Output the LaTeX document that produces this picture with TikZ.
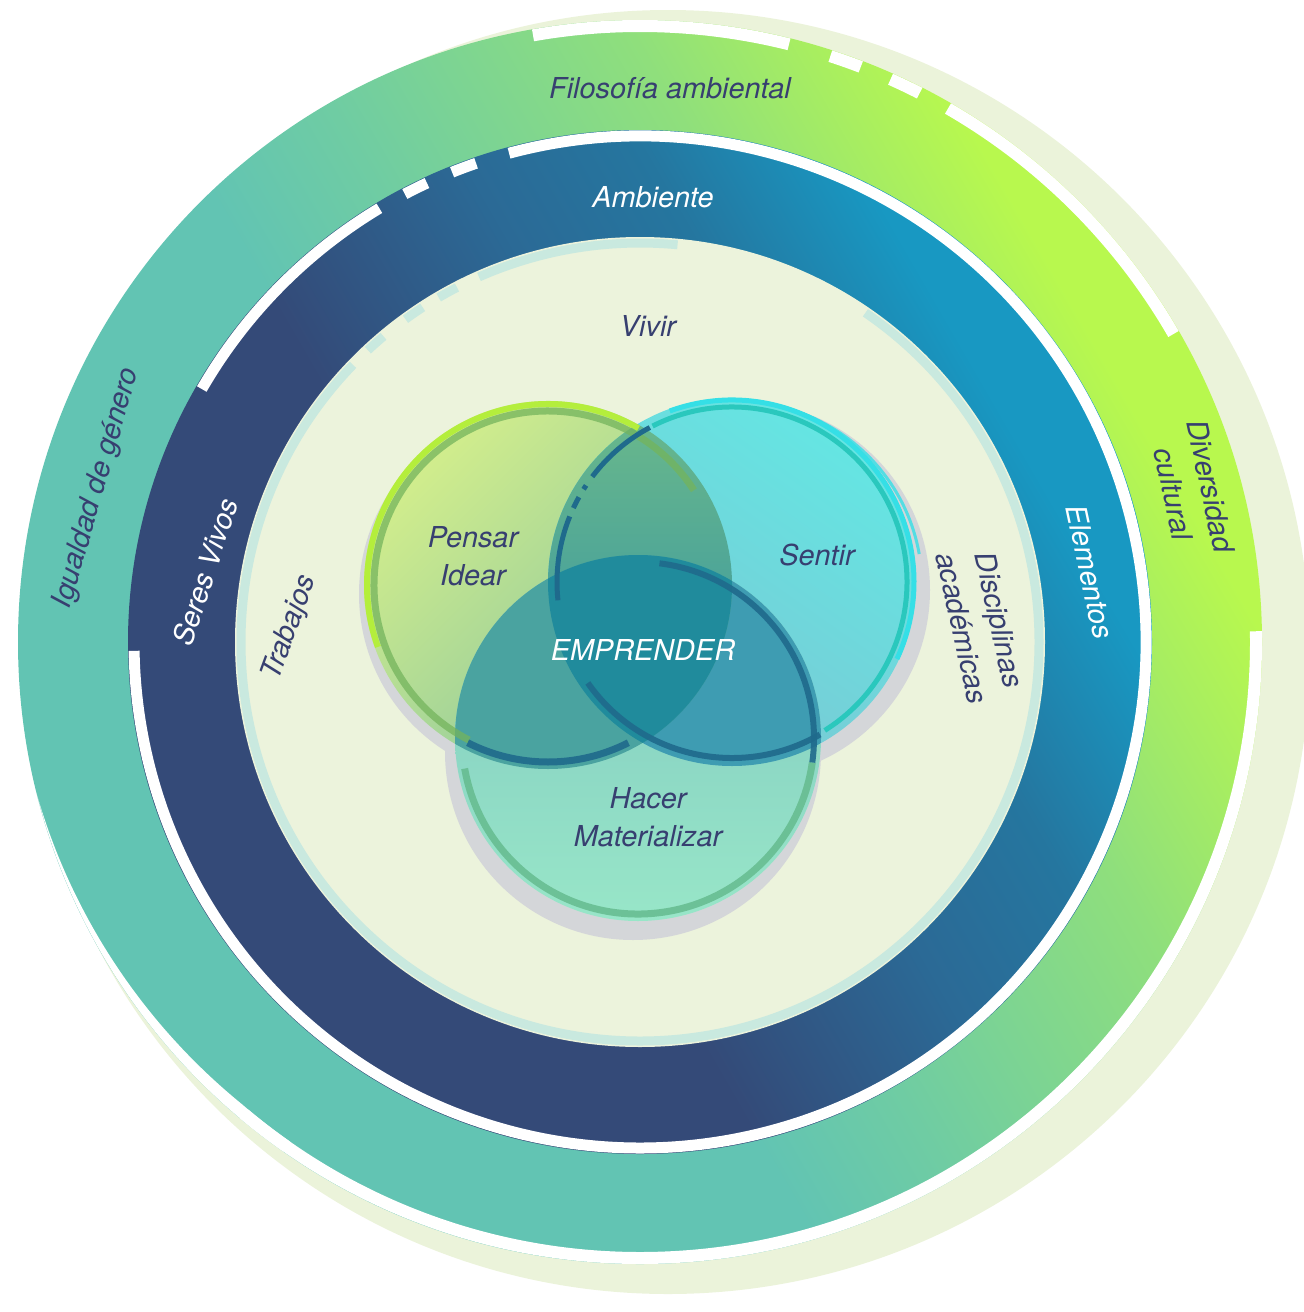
\documentclass[tikz,border=0pt]{standalone}
\usepackage{fontspec}
\setmainfont{TeX Gyre Heros}

\definecolor{ringTeal}{HTML}{62C4B3}
\definecolor{ringSea}{HTML}{6FCCA3}
\definecolor{ringMid}{HTML}{8FDF7C}
\definecolor{ringYellow}{HTML}{A8EE60}
\definecolor{ringLime}{HTML}{B8F84E}
\definecolor{ringNavy}{HTML}{344A78}
\definecolor{ringSteel}{HTML}{2B6A96}
\definecolor{ringBlue}{HTML}{25769F}
\definecolor{ringCyan}{HTML}{1898C2}
\definecolor{paleShadow}{HTML}{EBF3DA}
\definecolor{discPale}{HTML}{ECF3DC}
\definecolor{discTeal}{HTML}{C9E9DF}
\definecolor{txtNavy}{HTML}{373F70}
\definecolor{vennShadow}{HTML}{D4D6D9}
\definecolor{darkArc}{HTML}{1F6A8C}
\definecolor{pensarTop}{HTML}{D3EE8C}
\definecolor{pensarBot}{HTML}{86C4A0}
\definecolor{pensarLime}{HTML}{B4EE3C}
\definecolor{pensarRim}{HTML}{74B45C}
\definecolor{sentirTop}{HTML}{64E6E3}
\definecolor{sentirBot}{HTML}{7DC5D2}
\definecolor{sentirCyan}{HTML}{35DFE6}
\definecolor{sentirRim}{HTML}{2AC8BD}
\definecolor{hacerTop}{HTML}{7FC7C0}
\definecolor{hacerBot}{HTML}{98E6C8}
\definecolor{hacerRim}{HTML}{62B98B}
\definecolor{psTop}{HTML}{6CBA8A}
\definecolor{psBot}{HTML}{2F90A6}
\definecolor{phFill}{HTML}{4AA3A0}
\definecolor{shFill}{HTML}{3E9CB2}
\definecolor{pshFill}{HTML}{208B9C}

\pgfdeclarehorizontalshading{greenring}{100bp}{color(0bp)=(ringTeal); color(44bp)=(ringTeal); color(50bp)=(ringSea); color(62bp)=(ringMid); color(68bp)=(ringYellow); color(72bp)=(ringLime); color(100bp)=(ringLime)}
\pgfdeclarehorizontalshading{bluering}{100bp}{color(0bp)=(ringNavy); color(42.7bp)=(ringNavy); color(54.4bp)=(ringSteel); color(62.2bp)=(ringBlue); color(71bp)=(ringCyan); color(100bp)=(ringCyan)}

\tikzset{
    lbl/.style = {font = \fontsize{8.2}{10.8}\selectfont\itshape, text = txtNavy, align = center, inner sep = 0pt},
    lblwhite/.style = {lbl, text = white},
    cutarc/.style = {draw = white, line width = #1},
    rimarc/.style = {line width = 0.6mm}
}

\begin{document}
\begin{tikzpicture}[x = 0.1mm, y = 0.1mm]
    \useasboundingbox (0, 0) rectangle (1303, -1312);
    \coordinate (C) at (640, -642);

    \fill [paleShadow] (668, -652) circle [radius = 642];
    \shade [shading = greenring, shading angle = 30] (C) circle [radius = 622];
    \foreach \a/\b in {100/76, 72/69, 66/63, 60/30, 1/-130}
        \draw [cutarc = 1.2mm] (C) ++(\a:616) arc [start angle = \a, end angle = \b, radius = 616];
    \begin{scope}[even odd rule]
        \clip (0, 0) rectangle (1303, -1312) (634.6, -621.8) circle [radius = 622];
        \draw [cutarc = 1.2mm] (C) ++(-125:616) arc [start angle = -125, end angle = -172, radius = 616];
    \end{scope}

    \shade [shading = bluering, shading angle = 30] (C) circle [radius = 512];
    \foreach \a/\b in {105/-179, 150/121, 117.7/114.9, 111.8/108.9}
        \draw [cutarc = 1.1mm] (C) ++(\a:506) arc [start angle = \a, end angle = \b, radius = 506];

    \fill [discPale] (C) circle [radius = 405];
    \foreach \a/\b in {84.6/113.8, 117.3/120.3, 123/126, 130/133, 136/415.6}
        \draw [discTeal, line width = 0.9mm] (C) ++(\a:399) arc [start angle = \a, end angle = \b, radius = 399];

    \coordinate (P) at (548, -585);
    \coordinate (S) at (732, -582);
    \coordinate (H) at (638, -738);

    \fill [vennShadow]
        (545, -594) circle [radius = 186]
        (742, -590) circle [radius = 188]
        (633, -752) circle [radius = 188];

    \shade [top color = pensarTop, bottom color = pensarBot, shading angle = 45] (P) circle [radius = 184];
    \shade [top color = sentirTop, bottom color = sentirBot, shading angle = -35] (S) circle [radius = 184];
    \shade [top color = hacerTop, bottom color = hacerBot] (H) circle [radius = 183];

    \begin{scope}
        \clip (S) circle [radius = 184];
        \fill [shFill] (H) circle [radius = 183];
    \end{scope}
    \begin{scope}
        \clip (P) circle [radius = 184];
        \shade [top color = psTop, bottom color = psBot] (S) circle [radius = 184];
        \fill [phFill] (H) circle [radius = 183];
        \clip (S) circle [radius = 184];
        \fill [pshFill] (H) circle [radius = 183];
    \end{scope}

    % rims of the three circles
    \draw [rimarc, pensarLime] (P) ++(60:181) arc [start angle = 60, end angle = 200, radius = 181];
    \draw [rimarc, line width = 0.7mm, pensarRim, opacity = 0.75] (P) ++(33:174) arc [start angle = 33, end angle = 243, radius = 174];
    \draw [rimarc, line width = 0.7mm, darkArc, opacity = 0.9] (P) ++(243:177) arc [start angle = 243, end angle = 297, radius = 177];

    \draw [rimarc, line width = 0.5mm, sentirCyan] (S) ++(110:182) arc [start angle = 110, end angle = -25, radius = 182];
    \draw [rimarc, line width = 0.3mm, sentirCyan, opacity = 0.8] (738, -586) ++(70:184) arc [start angle = 70, end angle = 10, radius = 184];
    \draw [rimarc, line width = 0.5mm, sentirRim] (S) ++(117:175) arc [start angle = 117, end angle = -58, radius = 175];
    \foreach \a/\b in {118/143, 146.5/148, 151/155, 158/186}
        \draw [rimarc, line width = 0.5mm, darkArc] (S) ++(\a:175) arc [start angle = \a, end angle = \b, radius = 175];
    \draw [rimarc, darkArc, opacity = 0.9] (S) ++(215:176) arc [start angle = 215, end angle = 300, radius = 176];

    \draw [rimarc, line width = 0.7mm, hacerRim, opacity = 0.8] (H) ++(190:176) arc [start angle = 190, end angle = 352, radius = 176];
    \draw [rimarc, darkArc, opacity = 0.9] (H) ++(83:176) arc [start angle = 83, end angle = -8, radius = 176];

    \node [lbl] (filosofia) at (670, -88) {Filosofía ambiental};
    \node [lblwhite] (ambiente) at (653, -197) {Ambiente};
    \node [lbl] (vivir) at (648, -326) {Vivir};
    \node [lbl, rotate = 74] (igualdad) at (97, -488) {Igualdad de género};
    \node [lblwhite, rotate = 72] (seres) at (205, -572) {Seres Vivos};
    \node [lbl, rotate = 70] (trabajos) at (290, -628) {Trabajos};
    \node [lblwhite, rotate = -78] (elementos) at (1090, -572) {Elementos};
    \node [lbl, rotate = -78] (diversidad) at (1192, -490) {Diversidad\\cultural};
    \node [lbl, rotate = -77.5] (disciplinas) at (981, -624) {Disciplinas\\académicas};
    \node [lbl] (pensar) at (473, -556) {Pensar\\Idear};
    \node [lbl] (sentir) at (817, -555) {Sentir};
    \node [lblwhite] (emprender) at (643, -650) {EMPRENDER};
    \node [lbl] (hacer) at (648, -817) {Hacer\\Materializar};
\end{tikzpicture}
\end{document}
